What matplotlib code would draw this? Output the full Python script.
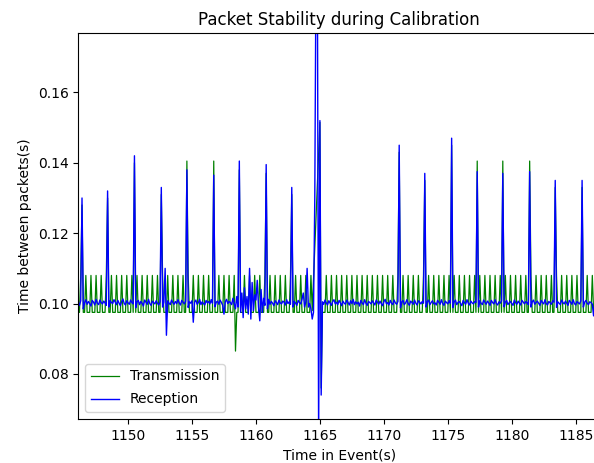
import numpy as np
import matplotlib.pyplot as plt

# packets every 0.1 s, starting at 1146.0 s
t_start = 1146.0
dt = 0.1

LO, HI = 0.0975, 0.108
nan = float("nan")  # missing packets

transmission = [
    LO, LO, LO, HI, 0.128, LO, LO, HI, LO, LO,
    LO, HI, LO, LO, LO, HI, LO, LO, LO, HI,
    LO, LO, LO, HI, 0.130, LO, LO, HI, LO, LO,
    LO, HI, LO, LO, LO, HI, LO, LO, LO, HI,
    LO, LO, LO, HI, LO, 0.140, LO, HI, LO, LO,
    LO, HI, LO, LO, LO, HI, LO, LO, LO, HI,
    LO, LO, LO, HI, LO, LO, 0.131, HI, LO, LO,
    LO, HI, LO, LO, LO, HI, LO, LO, LO, HI,
    LO, LO, LO, HI, LO, LO, 0.1405, HI, LO, LO,
    LO, HI, LO, LO, LO, HI, LO, LO, LO, HI,
    LO, LO, LO, HI, LO, LO, LO, 0.1405, LO, LO,
    LO, HI, LO, LO, LO, HI, LO, LO, LO, HI,
    LO, LO, LO, HI, 0.0865, LO, LO, 0.138, LO, LO,
    LO, HI, LO, LO, LO, HI, LO, LO, LO, HI,
    LO, LO, LO, HI, LO, LO, LO, HI, 0.137, LO,
    LO, HI, LO, LO, LO, HI, LO, LO, LO, HI,
    LO, LO, LO, HI, LO, LO, LO, HI, 0.131, LO,
    LO, HI, LO, LO, LO, HI, LO, LO, LO, HI,
    LO, LO, LO, HI, 0.098, nan, nan, nan, nan, nan,
    0.1515, 0.076, LO, LO, LO, HI, LO, LO, LO, HI,
    LO, LO, LO, HI, LO, LO, LO, HI, LO, LO,
    LO, HI, LO, LO, LO, HI, LO, LO, LO, HI,
    LO, LO, LO, HI, LO, LO, LO, HI, LO, LO,
    LO, HI, LO, LO, LO, HI, LO, LO, LO, HI,
    LO, LO, LO, HI, LO, LO, LO, HI, LO, LO,
    LO, HI, 0.143, LO, LO, HI, LO, LO, LO, HI,
    LO, LO, LO, HI, LO, LO, LO, HI, LO, LO,
    LO, HI, 0.135, LO, LO, HI, LO, LO, LO, HI,
    LO, LO, LO, HI, LO, LO, LO, HI, LO, LO,
    LO, HI, LO, 0.145, LO, HI, LO, LO, LO, HI,
    LO, LO, LO, HI, LO, LO, LO, HI, LO, LO,
    LO, HI, LO, 0.1405, LO, HI, LO, LO, LO, HI,
    LO, LO, LO, HI, LO, LO, LO, HI, LO, LO,
    LO, HI, LO, 0.1405, LO, HI, LO, LO, LO, HI,
    LO, LO, LO, HI, LO, LO, LO, HI, LO, LO,
    LO, HI, LO, LO, 0.1405, HI, LO, LO, LO, HI,
    LO, LO, LO, HI, LO, LO, LO, HI, LO, LO,
    LO, HI, LO, LO, 0.133, HI, LO, LO, LO, HI,
    LO, LO, LO, HI, LO, LO, LO, HI, LO, LO,
    LO, HI, LO, LO, LO, 0.133, LO, LO, LO, HI,
    LO, LO, LO, HI, LO, LO, LO, HI, LO, LO,
]

reception = [
    0.1010, 0.1003, 0.0995, 0.1008, 0.1300, 0.0985, 0.1002, 0.1011, 0.0998, 0.1006,
    0.1000, 0.0993, 0.1009, 0.1004, 0.0996, 0.1012, 0.1001, 0.0997, 0.1010, 0.1003,
    0.0999, 0.1007, 0.1002, 0.0995, 0.1320, 0.0990, 0.1008, 0.1003, 0.1000, 0.1011,
    0.1004, 0.0997, 0.1009, 0.1001, 0.0994, 0.1006, 0.1013, 0.1000, 0.0996, 0.1008,
    0.1002, 0.0998, 0.1010, 0.1003, 0.0999, 0.1420, 0.0988, 0.1005, 0.1009, 0.0997,
    0.1006, 0.1001, 0.0993, 0.1010, 0.1004, 0.0998, 0.1012, 0.1000, 0.0995, 0.1007,
    0.1003, 0.0999, 0.1008, 0.1001, 0.0996, 0.1005, 0.1330, 0.0990, 0.1004, 0.1100,
    0.0910, 0.1008, 0.1001, 0.0997, 0.1010, 0.1003, 0.0998, 0.1006, 0.1000, 0.1011,
    0.1002, 0.0996, 0.1009, 0.1004, 0.0999, 0.1007, 0.1380, 0.0989, 0.1005, 0.1001,
    0.1008, 0.0947, 0.1004, 0.1010, 0.0998, 0.1003, 0.1012, 0.0997, 0.1005, 0.1000,
    0.0996, 0.1009, 0.1002, 0.1006, 0.0999, 0.1011, 0.1001, 0.1365, 0.0991, 0.1004,
    0.1007, 0.0998, 0.1010, 0.1003, 0.0995, 0.0970, 0.1005, 0.1012, 0.1000, 0.1006,
    0.1003, 0.0997, 0.1015, 0.1000, 0.0985, 0.1020, 0.0990, 0.1405, 0.0975, 0.1030,
    0.0960, 0.1045, 0.0985, 0.1020, 0.0970, 0.1100, 0.0956, 0.1060, 0.0980, 0.1025,
    0.1010, 0.1066, 0.0990, 0.0951, 0.1040, 0.0975, 0.1015, 0.0995, 0.1395, 0.0985,
    0.1012, 0.0998, 0.1006, 0.1001, 0.0994, 0.1008, 0.1003, 0.0997, 0.1010, 0.1002,
    0.0999, 0.1007, 0.1004, 0.0996, 0.1011, 0.1000, 0.1005, 0.0998, 0.1330, 0.0990,
    0.1006, 0.1001, 0.0995, 0.1009, 0.1003, 0.0999, 0.1012, 0.1030, 0.0990, 0.1005,
    0.1100, 0.0990, 0.1000, 0.0985, 0.0956, 0.0975, 0.1300, 0.2000, 0.2000, 0.0600,
    0.1520, 0.0740, 0.1005, 0.0998, 0.1010, 0.1002, 0.0996, 0.1008, 0.1001, 0.0995,
    0.1006, 0.1011, 0.0999, 0.1004, 0.0997, 0.1009, 0.1002, 0.0994, 0.1007, 0.1001,
    0.0998, 0.1010, 0.1003, 0.0996, 0.1008, 0.1000, 0.1012, 0.0997, 0.1005, 0.0999,
    0.1004, 0.0993, 0.1009, 0.1002, 0.0997, 0.1011, 0.1001, 0.0995, 0.1006, 0.1003,
    0.0999, 0.1008, 0.1002, 0.0996, 0.1010, 0.1004, 0.0998, 0.1007, 0.1000, 0.0994,
    0.1005, 0.1012, 0.0999, 0.1003, 0.0996, 0.1009, 0.1001, 0.0997, 0.1010, 0.1002,
    0.0998, 0.1006, 0.1450, 0.0988, 0.1004, 0.1009, 0.0997, 0.1002, 0.1011, 0.1000,
    0.0995, 0.1007, 0.1003, 0.0998, 0.1010, 0.1001, 0.0996, 0.1008, 0.1004, 0.0999,
    0.1006, 0.1001, 0.1370, 0.0990, 0.1005, 0.1010, 0.0997, 0.1003, 0.1008, 0.0999,
    0.1002, 0.0996, 0.1009, 0.1004, 0.0998, 0.1011, 0.1000, 0.0995, 0.1007, 0.1003,
    0.0999, 0.1008, 0.1001, 0.1470, 0.0989, 0.1005, 0.1010, 0.0997, 0.1003, 0.1006,
    0.1000, 0.0994, 0.1009, 0.1003, 0.0998, 0.1011, 0.1001, 0.0996, 0.1007, 0.1002,
    0.0999, 0.1006, 0.1003, 0.1375, 0.0990, 0.1008, 0.1001, 0.0997, 0.1010, 0.1004,
    0.0998, 0.1007, 0.1002, 0.0995, 0.1009, 0.1003, 0.0999, 0.1011, 0.1000, 0.0996,
    0.1005, 0.1001, 0.1008, 0.1370, 0.0991, 0.1004, 0.1009, 0.0997, 0.1002, 0.1006,
    0.1000, 0.0995, 0.1010, 0.1003, 0.0998, 0.1007, 0.1001, 0.0996, 0.1009, 0.1004,
    0.0999, 0.1006, 0.1002, 0.0997, 0.1375, 0.0990, 0.1005, 0.1010, 0.0998, 0.1003,
    0.1007, 0.1001, 0.0995, 0.1009, 0.1003, 0.0999, 0.1011, 0.1000, 0.0996, 0.1006,
    0.1002, 0.0998, 0.1008, 0.1004, 0.1350, 0.0989, 0.1005, 0.1001, 0.0997, 0.1010,
    0.1003, 0.0999, 0.1007, 0.1001, 0.0995, 0.1009, 0.1004, 0.0998, 0.1011, 0.1000,
    0.0996, 0.1006, 0.1002, 0.0999, 0.1008, 0.1350, 0.0990, 0.1004, 0.1009, 0.1001,
    0.0997, 0.1005, 0.1003, 0.0998, 0.0965, 0.1007, 0.1001, 0.0996, 0.1008, 0.1002,
]

tx = np.array(transmission)
rx = np.array(reception)
t = t_start + dt * np.arange(len(tx))
ok = ~np.isnan(tx)

fig = plt.figure(figsize=(5.94, 4.63), dpi=100)
# the original was cropped on the right, so the axes run past the canvas
ax = fig.add_axes([78.3 / 594, 44 / 463, 521.7 / 594, 385.7 / 463])

ax.plot(t[ok], tx[ok], color="green", lw=0.9, label="Transmission")
ax.plot(t, rx, color="blue", lw=1.0, label="Reception")

ax.set_xlim(1146.11, 1186.9)
ax.set_ylim(0.0672, 0.1768)
ax.set_xticks(np.arange(1150, 1186, 5))
ax.set_yticks([0.08, 0.10, 0.12, 0.14, 0.16])

ax.set_title("Packet Stability during Calibration")
ax.set_xlabel("Time in Event(s)")
ax.set_ylabel("Time between packets(s)")
ax.legend(loc="lower left", labelspacing=0.65)

fig.savefig("out.png", dpi=100)
